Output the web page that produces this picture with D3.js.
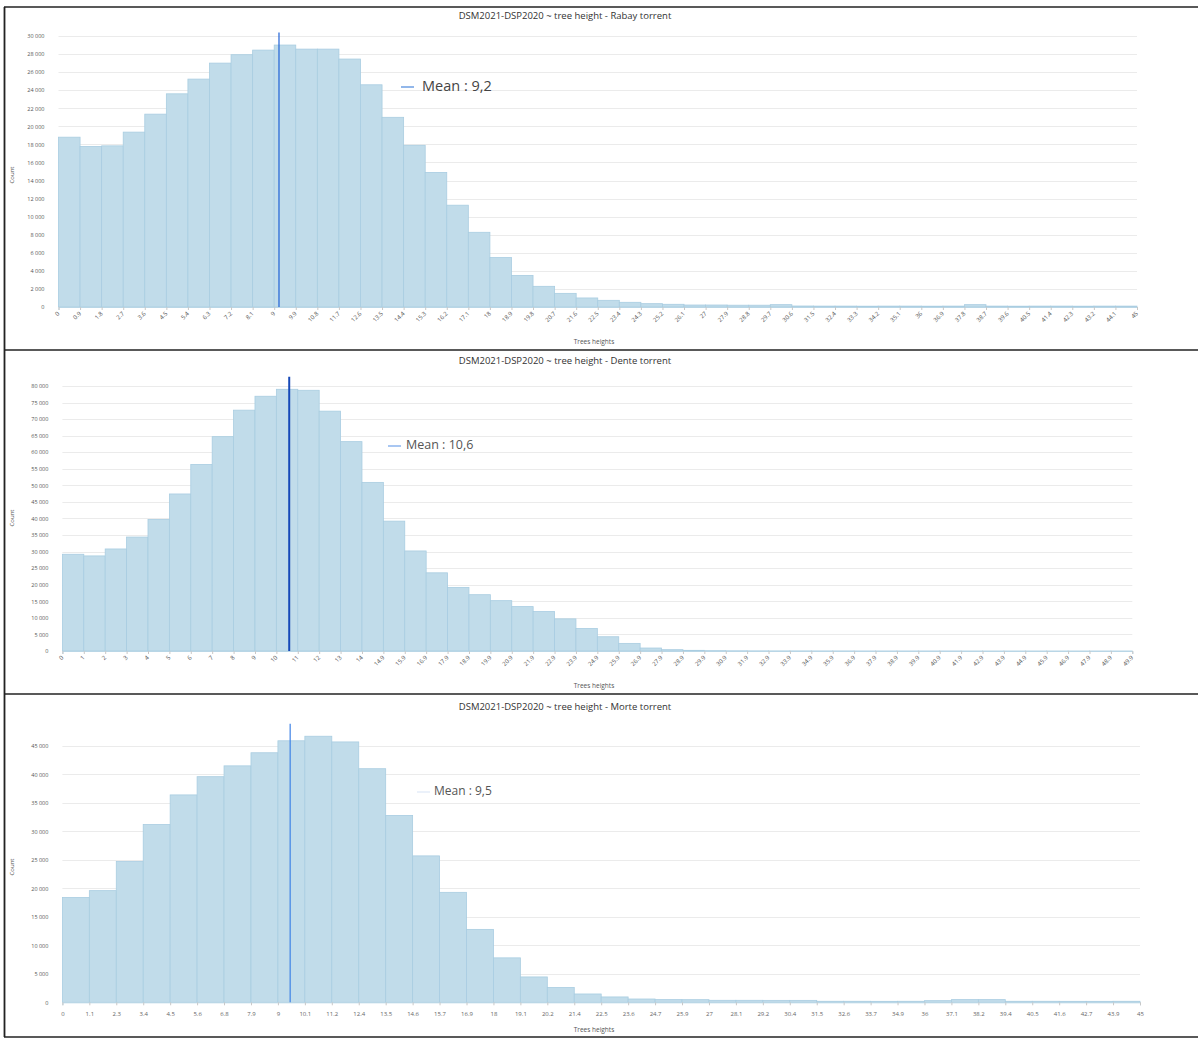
<!DOCTYPE html>
<html><head><meta charset="utf-8">
<script src="https://cdn.jsdelivr.net/npm/d3@7"></script>
<style>
body{margin:0;background:#fff;}
svg{display:block;font-family:"Open Sans",sans-serif;}
</style>
</head><body>
<svg id="c" width="1198" height="1039"></svg>
<script>
// ---------------- DATA ----------------
const titles = [
  "DSM2021-DSP2020 ~ tree height - Rabay torrent",
  "DSM2021-DSP2020 ~ tree height - Dente torrent",
  "DSM2021-DSP2020 ~ tree height - Morte torrent"
];
const means = [9.2, 10.6, 9.5];
const meanLabels = ["Mean : 9,2", "Mean : 10,6", "Mean : 9,5"];
const xTitle = "Trees heights";
const yTitle = "Count";

const rabayTicks = ["0","0.9","1.8","2.7","3.6","4.5","5.4","6.3","7.2","8.1","9","9.9","10.8","11.7","12.6","13.5","14.4","15.3","16.2","17.1","18","18.9","19.8","20.7","21.6","22.5","23.4","24.3","25.2","26.1","27","27.9","28.8","29.7","30.6","31.5","32.4","33.3","34.2","35.1","36","36.9","37.8","38.7","39.6","40.5","41.4","42.3","43.2","44.1","45"];
const rabayCounts = [18800,17770,17840,19360,21350,23600,25230,27000,27930,28440,29000,28550,28550,27450,24600,21000,17900,14900,11270,8270,5470,3500,2290,1510,1000,740,520,370,300,220,220,200,200,260,110,100,100,90,100,100,90,100,260,100,90,100,100,90,100,100];
const rabayYTicks = [0,2000,4000,6000,8000,10000,12000,14000,16000,18000,20000,22000,24000,26000,28000,30000];

const denteTicks = ["0","1","2","3","4","5","6","7","8","9","10","11","12","13","14","14.9","15.9","16.9","17.9","18.9","19.9","20.9","21.9","22.9","23.9","24.9","25.9","26.9","27.9","28.9","29.9","30.9","31.9","32.9","33.9","34.9","35.9","36.9","37.9","38.9","39.9","40.9","41.9","42.9","43.9","44.9","45.9","46.9","47.9","48.9","49.9"];
const denteCounts = [29200,28700,30800,34400,39700,47400,56300,64700,72700,76900,79000,78700,72400,63200,50900,39200,30200,23600,19200,17000,15200,13400,11900,9700,6800,4300,2300,900,400,200,100,60,40,30,30,20,20,10,10,10,10,10,5,5,5,5,5,5,5,5];
const denteYTicks = [0,5000,10000,15000,20000,25000,30000,35000,40000,45000,50000,55000,60000,65000,70000,75000,80000];

const morteTicks = ["0","1.1","2.3","3.4","4.5","5.6","6.8","7.9","9","10.1","11.2","12.4","13.5","14.6","15.7","16.9","18","19.1","20.2","21.4","22.5","23.6","24.7","25.9","27","28.1","29.2","30.4","31.5","32.6","33.7","34.9","36","37.1","38.2","39.4","40.5","41.6","42.7","43.9","45"];
const morteCounts = [18400,19600,24700,31200,36400,39600,41500,43800,45900,46700,45700,41000,32800,25700,19300,12800,7800,4450,2600,1460,940,580,470,460,350,350,340,340,180,180,170,180,290,470,470,180,180,170,170,180];
const morteYTicks = [0,5000,10000,15000,20000,25000,30000,35000,40000,45000];

// ---------------- LAYOUT ----------------
const layout = [
  {top:32.4, base:307, left:58.5, right:1137, yMax:30400, rotate:true, titleY:16, xTitleY:342, yTitleY:175,
   meanColor:"#1f62d6", meanW:1.2, legColor:"#6e9fe3", legX:401, legY:87, legGap:21, legFont:14.5, legText:"#444"},
  {top:376.7, base:651, left:62.4, right:1132.3, yMax:82800, rotate:true, titleY:361, xTitleY:686, yTitleY:518,
   meanColor:"#1749b8", meanW:2, legColor:"#8db5ee", legX:388, legY:446, legGap:18, legFont:12.5, legText:"#555"},
  {top:723.7, base:1002.3, left:62.4, right:1140, yMax:48900, rotate:false, titleY:707, xTitleY:1030, yTitleY:867,
   meanColor:"#3f82e6", meanW:1.2, legColor:"#e4edf8", legX:417, legY:792, legGap:17, legFont:12, legText:"#555"}
];
const series = [
  {ticks:rabayTicks, counts:rabayCounts, yTicks:rabayYTicks},
  {ticks:denteTicks, counts:denteCounts, yTicks:denteYTicks},
  {ticks:morteTicks, counts:morteCounts, yTicks:morteYTicks}
];

const loc = d3.formatLocale({decimal:",", thousands:"\u00a0", grouping:[3], currency:["",""]});
const fmtY = loc.format(",d");

const svg = d3.select("#c");

series.forEach((s, k) => {
  const L = layout[k];
  const n = s.counts.length;
  const g = svg.append("g");
  const x = d3.scaleLinear().domain([0, n]).range([L.left, L.right]);
  const y = d3.scaleLinear().domain([0, L.yMax]).range([L.base, L.top]);

  // title
  g.append("text").attr("x", 565).attr("y", L.titleY).attr("text-anchor","middle")
    .attr("dominant-baseline","middle").attr("font-size", 9.5).attr("fill","#333").text(titles[k]);

  // grid
  g.selectAll("line.grid").data(s.yTicks.filter(d => d > 0)).join("line")
    .attr("x1", L.left).attr("x2", L.right)
    .attr("y1", d => Math.round(y(d)) + 0.5).attr("y2", d => Math.round(y(d)) + 0.5)
    .attr("stroke", "#ebebeb").attr("stroke-width", 1);

  // bars
  g.selectAll("rect.bar").data(s.counts).join("rect")
    .attr("x", (d, i) => x(i)).attr("width", x(1) - x(0))
    .attr("y", d => y(d)).attr("height", d => y(0) - y(d))
    .attr("fill", "#c1dcea").attr("stroke", "#a9cde1").attr("stroke-width", 0.8);

  // x axis
  const xAxis = d3.axisBottom(x).tickValues(d3.range(n + 1)).tickFormat(i => s.ticks[i])
    .tickSize(3).tickPadding(3);
  const ax = g.append("g").attr("transform", `translate(0,${L.base})`).call(xAxis);
  ax.select(".domain").attr("stroke", "#b9d6e6");
  ax.selectAll(".tick line").attr("stroke", "#c8c8c8");
  ax.selectAll(".tick text").attr("fill", "#555").attr("font-size", 6).attr("font-family", '"Open Sans",sans-serif');
  if (L.rotate) {
    ax.selectAll(".tick text").attr("text-anchor", "end").attr("dy", null).attr("y", null)
      .attr("transform", "translate(1,7) rotate(-45)");
  } else {
    ax.selectAll(".tick text").attr("y", 9).attr("fill", "#666");
  }

  // y axis
  const yAxis = d3.axisLeft(y).tickValues(s.yTicks).tickFormat(fmtY).tickSize(0).tickPadding(14);
  const ay = g.append("g").attr("transform", `translate(${L.left},0)`).call(yAxis);
  ay.select(".domain").remove();
  ay.selectAll(".tick text").attr("fill", "#555").attr("font-size", 5.5).attr("font-family", '"Open Sans",sans-serif');

  // axis titles
  g.append("text").attr("x", 594).attr("y", L.xTitleY).attr("text-anchor","middle")
    .attr("dominant-baseline","middle").attr("font-size", 6.5).attr("fill","#555").text(xTitle);
  g.append("text").attr("transform", `translate(12,${L.yTitleY}) rotate(-90)`).attr("text-anchor","middle")
    .attr("dominant-baseline","middle").attr("font-size", 6).attr("fill","#555").text(yTitle);

  // mean line
  const toIndex = d3.scaleLinear().domain(s.ticks.map(t => parseFloat(t))).range(d3.range(n + 1));
  const mx = x(toIndex(means[k]));
  g.append("line").attr("x1", mx).attr("x2", mx).attr("y1", y(L.yMax)).attr("y2", y(0))
    .attr("stroke", L.meanColor).attr("stroke-width", L.meanW);

  // legend
  g.append("line").attr("x1", L.legX).attr("x2", L.legX + 13).attr("y1", L.legY).attr("y2", L.legY)
    .attr("stroke", L.legColor).attr("stroke-width", 1.5);
  g.append("text").attr("x", L.legX + L.legGap).attr("y", L.legY).attr("dominant-baseline","middle")
    .attr("font-size", L.legFont).attr("fill", L.legText).text(meanLabels[k]);
});

// frame
const frameY = [7, 350, 694, 1037];
svg.selectAll("line.frame").data(frameY).join("line")
  .attr("x1", 4).attr("x2", 1198).attr("y1", d => d).attr("y2", d => d)
  .attr("stroke", "#222").attr("stroke-width", 1.6);
svg.append("line").attr("x1", 4.5).attr("x2", 4.5).attr("y1", 7).attr("y2", 1037)
  .attr("stroke", "#222").attr("stroke-width", 1.8);
</script>
</body></html>
